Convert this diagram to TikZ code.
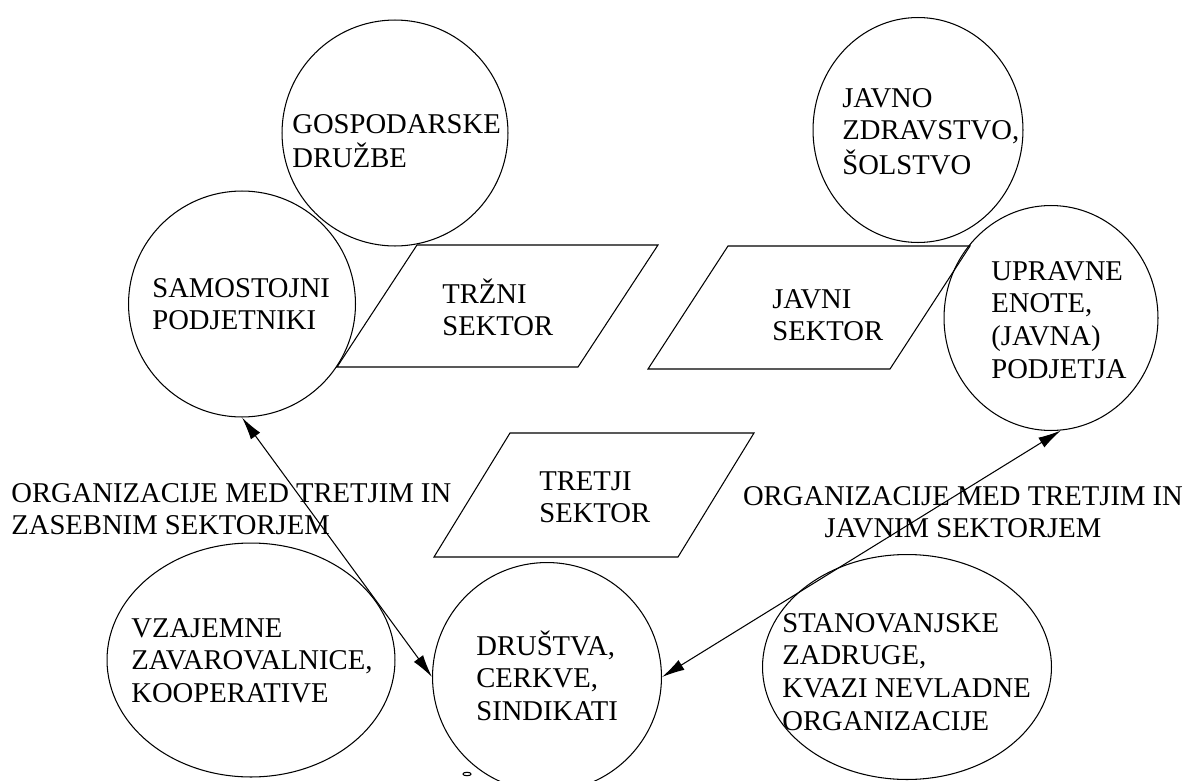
\documentclass[tikz,border=0pt]{standalone}
\usepackage{fontspec}
\setmainfont{Liberation Serif}
\usetikzlibrary{shapes.geometric,arrows.meta}
\begin{document}
\begin{tikzpicture}[x=0.02cm,y=-0.02cm,
  shp/.style={draw,line width=0.6pt,inner sep=0pt,ellipse},
  txt/.style={inner sep=0pt,font=\fontsize{16.3}{18.6}\selectfont},
  para/.style={draw,line width=0.6pt,line join=miter},
  conn/.style={line width=0.6pt,{Latex[length=13pt,width=6.5pt]}-{Latex[length=13pt,width=6.5pt]}}]
\useasboundingbox (0,0) rectangle (1187,781);
% circles / ellipses
\node[shp,minimum width=4.52cm,minimum height=4.52cm] (gosp) at (395,133) {};
\node[shp,minimum width=4.54cm,minimum height=4.52cm] (samo) at (242,304) {};
\node[shp,minimum width=4.2cm,minimum height=4.5cm] (javno) at (918,130) {};
\node[shp,minimum width=4.28cm,minimum height=4.5cm] (upr) at (1051,318) {};
\node[shp,minimum width=4.58cm,minimum height=4.58cm] (dru) at (547,677) {};
\node[shp,minimum width=5.76cm,minimum height=4.68cm] (vz) at (251,660) {};
\node[shp,minimum width=5.78cm,minimum height=4.5cm] (stan) at (907,667) {};
\node[shp,minimum width=0.16cm,minimum height=0.07cm] (dot) at (467,774) {};
% parallelograms
\draw[para] (417,245) -- (658,245) -- (578,367) -- (337,367) -- cycle;
\draw[para] (728,246) -- (970,246) -- (890,369) -- (648,369) -- cycle;
\draw[para] (510,433) -- (754,433) -- (678,557) -- (434,557) -- cycle;
% texts
\node[txt,anchor=base west] (tgosp) at (292,133) {\begin{tabular}[t]{@{}l@{}}GOSPODARSKE\\DRUŽBE\end{tabular}};
\node[txt,anchor=base west] (tsamo) at (152,297) {\begin{tabular}[t]{@{}l@{}}SAMOSTOJNI\\PODJETNIKI\end{tabular}};
\node[txt,anchor=base west] (ttrz) at (442,303) {\begin{tabular}[t]{@{}l@{}}TRŽNI\\SEKTOR\end{tabular}};
\node[txt,anchor=base west] (tjav) at (772,308) {\begin{tabular}[t]{@{}l@{}}JAVNI\\SEKTOR\end{tabular}};
\node[txt,anchor=base west] (tjavno) at (842,107) {\begin{tabular}[t]{@{}l@{}}JAVNO\\ZDRAVSTVO,\\ŠOLSTVO\end{tabular}};
\node[txt,anchor=base west] (tupr) at (991,280) {\begin{tabular}[t]{@{}l@{}}UPRAVNE\\ENOTE,\\(JAVNA)\\PODJETJA\end{tabular}};
\node[txt,anchor=base west] (ttret) at (539,490) {\begin{tabular}[t]{@{}l@{}}TRETJI\\SEKTOR\end{tabular}};
\node[txt,anchor=base west] (tlab1) at (11,502) {\begin{tabular}[t]{@{}l@{}}ORGANIZACIJE MED TRETJIM IN\\ZASEBNIM SEKTORJEM\end{tabular}};
\node[txt,anchor=base] (tlab2) at (963,505) {\begin{tabular}[t]{@{}c@{}}ORGANIZACIJE MED TRETJIM IN\\JAVNIM SEKTORJEM\end{tabular}};
\node[txt,anchor=base west] (tvz) at (131,637) {\begin{tabular}[t]{@{}l@{}}VZAJEMNE\\ZAVAROVALNICE,\\KOOPERATIVE\end{tabular}};
\node[txt,anchor=base west] (tdru) at (476,655) {\begin{tabular}[t]{@{}l@{}}DRUŠTVA,\\CERKVE,\\SINDIKATI\end{tabular}};
\node[txt,anchor=base west] (tstan) at (782,632) {\begin{tabular}[t]{@{}l@{}}STANOVANJSKE\\ZADRUGE,\\KVAZI NEVLADNE\\ORGANIZACIJE\end{tabular}};
% connectors
\draw[conn] (samo.south) -- (dru.west);
\draw[conn] (upr.-85) -- (dru.east);
\end{tikzpicture}
\end{document}
